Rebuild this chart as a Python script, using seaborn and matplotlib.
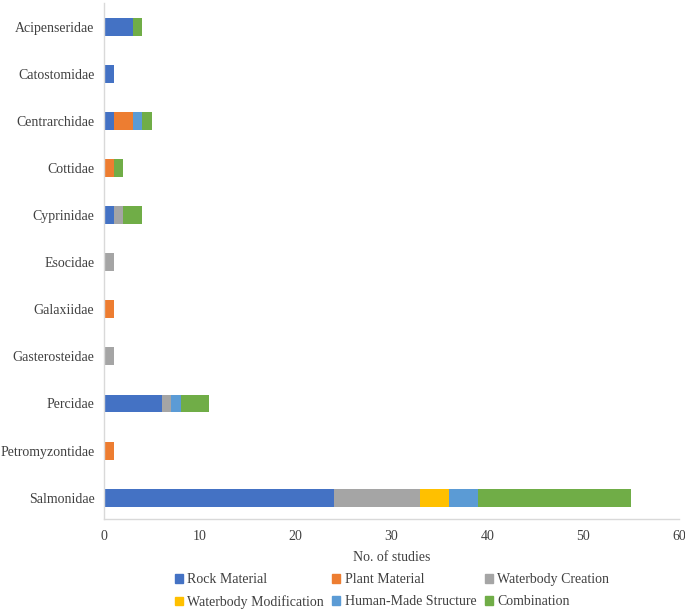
import numpy as np
import pandas as pd
import seaborn as sns
import matplotlib.pyplot as plt
from matplotlib.patches import Patch

# familias e numero de estudos por tipo de habitat
familias = ['Acipenseridae', 'Catostomidae', 'Centrarchidae', 'Cottidae', 'Cyprinidae',
            'Esocidae', 'Galaxiidae', 'Gasterosteidae', 'Percidae', 'Petromyzontidae',
            'Salmonidae']
rock_material = [3, 1, 1, 0, 1, 0, 0, 0, 6, 0, 24]
plant_material = [0, 0, 2, 1, 0, 0, 1, 0, 0, 1, 0]
waterbody_creation = [0, 0, 0, 0, 1, 1, 0, 1, 1, 0, 9]
waterbody_modification = [0, 0, 0, 0, 0, 0, 0, 0, 0, 0, 3]
human_made = [0, 0, 1, 0, 0, 0, 0, 0, 1, 0, 3]
combination = [1, 0, 1, 1, 2, 0, 0, 0, 3, 0, 16]

series = ['Rock Material', 'Plant Material', 'Waterbody Creation',
          'Waterbody Modification', 'Human-Made Structure', 'Combination']
cores = ['#4472C4', '#ED7D31', '#A5A5A5', '#FFC000', '#5B9BD5', '#70AD47']

dados = pd.DataFrame({'familia': familias,
                      series[0]: rock_material, series[1]: plant_material,
                      series[2]: waterbody_creation, series[3]: waterbody_modification,
                      series[4]: human_made, series[5]: combination})

# somas acumuladas para empilhar as barras
acum = dados[series].cumsum(axis=1)

sns.set_style('white')
plt.rcParams['font.family'] = ['Liberation Serif', 'DejaVu Serif']

fig = plt.figure(figsize=(6.85, 6.09), dpi=100)
ax = fig.add_axes([0.152, 0.148, 0.839, 0.847])

for serie, cor in reversed(list(zip(series, cores))):
    sns.barplot(x=acum[serie], y=dados['familia'], orient='h', color=cor,
                saturation=1, width=0.38, linewidth=0, ax=ax)

ax.set_xlim(0, 60)
ax.set_xticks(range(0, 61, 10))
ax.set_ylim(10.45, -0.5)
ax.set_ylabel('')
ax.set_xlabel('No. of studies', fontsize=10, color='#404040', labelpad=6)
ax.tick_params(axis='both', labelsize=10, colors='#404040')
ax.tick_params(axis='y', length=0, pad=7)
ax.tick_params(axis='x', length=4, color='#D9D9D9', direction='out', pad=4)
for lado in ['top', 'right']:
    ax.spines[lado].set_visible(False)
for lado in ['left', 'bottom']:
    ax.spines[lado].set_color('#D9D9D9')
    ax.spines[lado].set_linewidth(1.0)

# legenda preenchida por linhas, como no original
ordem = [0, 3, 1, 4, 2, 5]
handles = [Patch(color=cores[i], label=series[i]) for i in ordem]
fig.legend(handles=handles, loc='upper center', bbox_to_anchor=(0.572, 0.072),
           ncol=3, frameon=False, fontsize=10, handlelength=0.6, handleheight=0.6,
           handletextpad=0.3, columnspacing=0.6, labelspacing=0.62, borderpad=0.1,
           labelcolor='#404040')

fig.savefig('out.png', dpi=100)
